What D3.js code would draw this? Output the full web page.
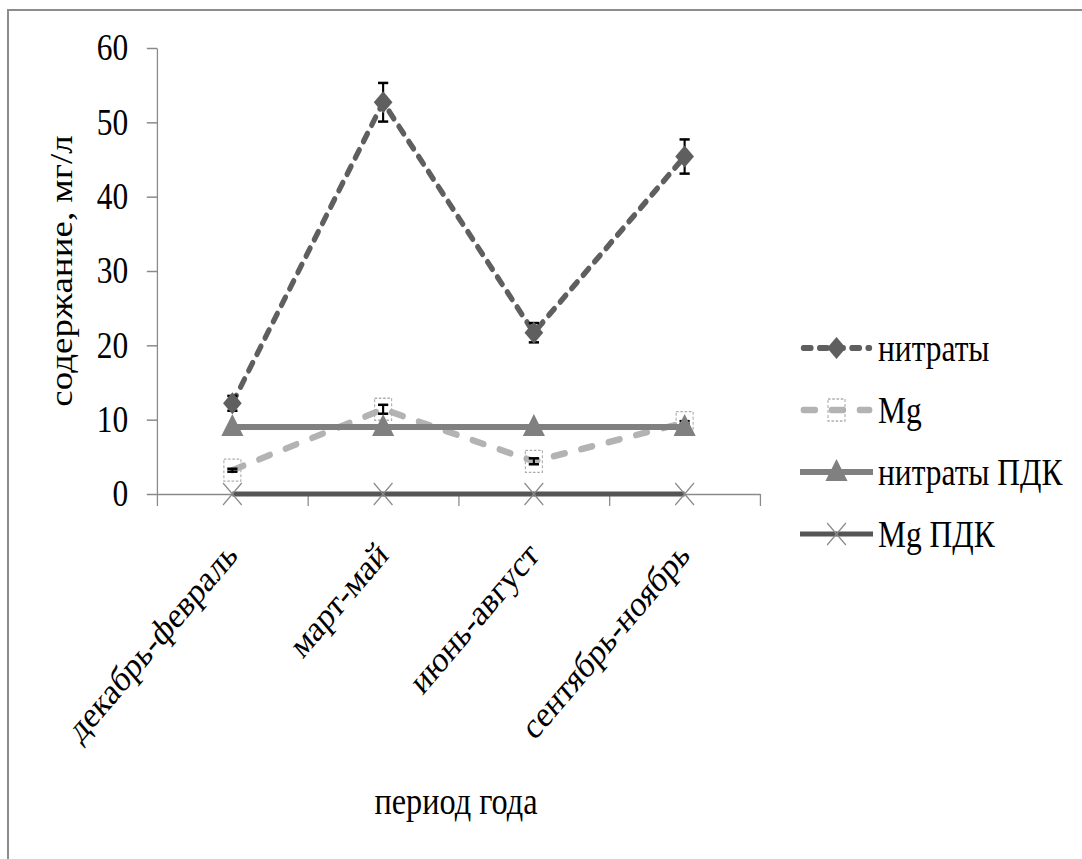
<!DOCTYPE html>
<html>
<head>
<meta charset="utf-8">
<script src="https://cdn.jsdelivr.net/npm/d3@7"></script>
<style>
  body { margin: 0; background: #fff; }
  svg text { font-family: "Liberation Serif", "DejaVu Serif", serif; fill: #000; }
</style>
</head>
<body>
<script>
// данные с графика
var periods = ["декабрь-февраль", "март-май", "июнь-август", "сентябрь-ноябрь"];
var nitrates = [12.2, 52.7, 21.7, 45.4];
var nitratesErr = [1.0, 2.6, 1.3, 2.3];
var mg = [3.2, 11.4, 4.4, 9.6];
var mgErr = [0.2, 0.6, 0.4, 0.2];
var nitratesPdk = [9, 9, 9, 9];
var mgPdk = [0, 0, 0, 0];
var yTicks = [0, 10, 20, 30, 40, 50, 60];
var seriesNames = ["нитраты", "Mg", "нитраты ПДК", "Mg ПДК"];

var serif = "'Liberation Serif', 'DejaVu Serif', serif";

// картинка в оригинале сжата по горизонтали
var k = 0.85;
var W = 1082, H = 859;

var svg = d3.select("body").append("svg")
    .attr("width", W)
    .attr("height", H);

// рамка (видна только слева и сверху)
svg.append("rect")
    .attr("x", 8).attr("y", 10)
    .attr("width", 1200).attr("height", 1000)
    .attr("fill", "none")
    .attr("stroke", "#8c8c8c")
    .attr("stroke-width", 2);

var g = svg.append("g")
    .attr("transform", "scale(" + k + ",1)")
    .style("font-family", serif);

var plotLeft = 157 / k, plotRight = 760 / k, plotTop = 48, plotBottom = 494;

var x = d3.scaleBand().domain(periods).range([plotLeft, plotRight]);
var xb = d3.scaleLinear().domain([0, periods.length]).range([plotLeft, plotRight]);
var y = d3.scaleLinear().domain([0, 60]).range([plotBottom, plotTop]);
var cx = function(i) { return x(periods[i]) + x.bandwidth() / 2; };

// ось Y
var yAxis = g.append("g")
    .attr("transform", "translate(" + plotLeft + ",0)")
    .call(d3.axisLeft(y).tickValues(yTicks).tickSize(12).tickSizeOuter(0).tickPadding(22));
yAxis.attr("font-family", null).attr("font-size", null);
yAxis.selectAll("text").style("font-size", "37px").style("font-family", serif);
yAxis.select(".domain").attr("stroke", "#8a8a8a").attr("stroke-width", 1.5);
yAxis.selectAll(".tick line").attr("stroke", "#8a8a8a").attr("stroke-width", 1.5);

// ось X (деления между категориями)
var xAxis = g.append("g")
    .attr("transform", "translate(0," + plotBottom + ")")
    .call(d3.axisBottom(xb).tickValues(d3.range(periods.length + 1)).tickSize(12).tickSizeOuter(0).tickFormat(""));
xAxis.select(".domain").attr("stroke", "#8a8a8a").attr("stroke-width", 1.5);
xAxis.selectAll(".tick line").attr("stroke", "#8a8a8a").attr("stroke-width", 1.5);

// подписи категорий
g.selectAll(".xlab")
  .data(periods)
  .enter().append("text")
    .attr("class", "xlab")
    .attr("transform", function(d, i) { return "translate(" + (cx(i) + 8) + ",557) rotate(-45)"; })
    .attr("text-anchor", "end")
    .style("font-family", serif)
    .style("font-size", "37px")
    .text(function(d) { return d; });

// названия осей
g.append("text")
    .attr("transform", "translate(" + (72 / k) + "," + ((plotTop + plotBottom) / 2) + ") rotate(-90)")
    .attr("text-anchor", "middle")
    .style("font-family", serif)
    .style("font-size", "37px")
    .text("содержание, мг/л");

g.append("text")
    .attr("x", 456 / k)
    .attr("y", 814)
    .attr("text-anchor", "middle")
    .style("font-family", serif)
    .style("font-size", "38px")
    .text("период года");

// маркеры
function diamond(sel) {
  sel.append("path").attr("d", "M0,-11L11,0L0,11L-11,0Z").attr("fill", "#5f5f5f");
}
function square(sel) {
  sel.append("rect").attr("x", -10).attr("y", -11).attr("width", 20).attr("height", 22)
    .attr("fill", "none").attr("stroke", "#adadad").attr("stroke-width", 1.3).attr("stroke-dasharray", "3,2");
}
function triangle(sel) {
  sel.append("path").attr("d", "M0,-13L13,9L-13,9Z").attr("fill", "#808080");
}
function cross(sel) {
  sel.append("path").attr("d", "M-11,-11L11,11M-11,11L11,-11")
    .attr("stroke", "#8a8a8a").attr("stroke-width", 1.5).attr("fill", "none");
}

var series = [
  {name: seriesNames[0], values: nitrates, err: nitratesErr, color: "#5f5f5f", width: 6, dash: "9,10", marker: diamond},
  {name: seriesNames[1], values: mg, err: mgErr, color: "#b3b3b3", width: 6.5, dash: "14,19", marker: square},
  {name: seriesNames[2], values: nitratesPdk, err: null, color: "#808080", width: 6, dash: null, marker: triangle},
  {name: seriesNames[3], values: mgPdk, err: null, color: "#555555", width: 5, dash: null, marker: cross}
];

var line = d3.line()
    .x(function(d, i) { return cx(i); })
    .y(function(d) { return y(d); });

series.forEach(function(s) {
  var sg = g.append("g");
  sg.append("path")
      .datum(s.values)
      .attr("d", line)
      .attr("fill", "none")
      .attr("stroke", s.color)
      .attr("stroke-width", s.width)
      .attr("stroke-linecap", s.dash ? "round" : "butt")
      .attr("stroke-dasharray", s.dash);

  if (s.err) {
    s.values.forEach(function(v, i) {
      var e = sg.append("g").attr("stroke", "#000").attr("stroke-width", 2.5);
      e.append("line").attr("x1", cx(i)).attr("x2", cx(i)).attr("y1", y(v - s.err[i])).attr("y2", y(v + s.err[i]));
      e.append("line").attr("x1", cx(i) - 6).attr("x2", cx(i) + 6).attr("y1", y(v + s.err[i])).attr("y2", y(v + s.err[i]));
      e.append("line").attr("x1", cx(i) - 6).attr("x2", cx(i) + 6).attr("y1", y(v - s.err[i])).attr("y2", y(v - s.err[i]));
    });
  }

  s.values.forEach(function(v, i) {
    var m = sg.append("g").attr("transform", "translate(" + cx(i) + "," + y(v) + ")");
    s.marker(m);
  });
});

// легенда
var legY = [348, 410, 472, 534];
var legX0 = 800 / k, legX1 = 873 / k;
series.forEach(function(s, i) {
  var lg = g.append("g").attr("transform", "translate(0," + legY[i] + ")");
  lg.append("line")
      .attr("x1", legX0 + (s.dash ? 4 : 0)).attr("x2", legX1 - (s.dash ? 4 : 0))
      .attr("stroke", s.color)
      .attr("stroke-width", s.width)
      .attr("stroke-linecap", s.dash ? "round" : "butt")
      .attr("stroke-dasharray", s.dash);
  var m = lg.append("g").attr("transform", "translate(" + ((legX0 + legX1) / 2) + ",0)");
  s.marker(m);
  lg.append("text")
      .attr("x", 878 / k)
      .attr("dy", "0.35em")
      .style("font-family", serif)
      .style("font-size", "37px")
      .text(s.name);
});
</script>
</body>
</html>
